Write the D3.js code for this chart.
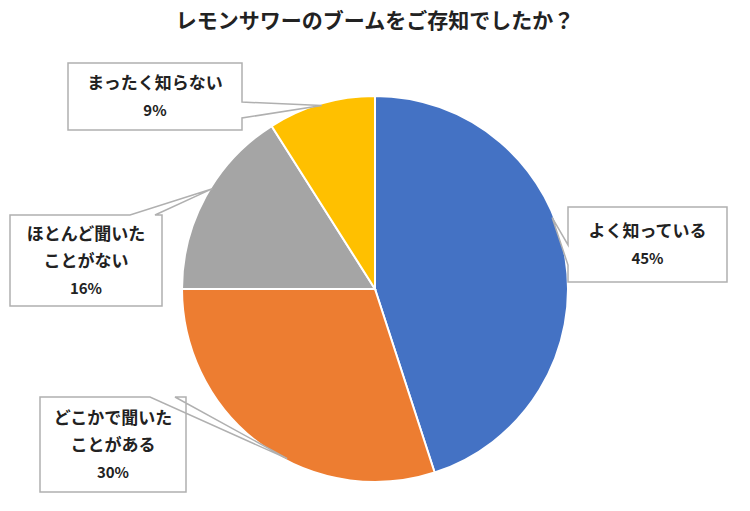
<!DOCTYPE html>
<html lang="ja">
<head>
<meta charset="UTF-8">
<script src="https://d3js.org/d3.v7.min.js"></script>
<style>body{margin:0;background:#fff}text{font-family:"Noto Sans CJK JP",sans-serif;font-weight:bold;fill:#222}</style>
</head>
<body>
<script>
const categories = ["よく知っている", "どこかで聞いたことがある", "ほとんど聞いたことがない", "まったく知らない"];
const values = [45, 30, 16, 9];
const colors = ["#4472c4", "#ed7d31", "#a5a5a5", "#ffc000"];
const labelLines = [["よく知っている"], ["どこかで聞いた", "ことがある"], ["ほとんど聞いた", "ことがない"], ["まったく知らない"]];

const W = 750, H = 511, cx = 375, cy = 289, r = 193;
const svg = d3.select("body").append("svg").attr("width", W).attr("height", H);

svg.append("text").attr("x", W / 2).attr("y", 28).attr("text-anchor", "middle")
  .style("font-size", "21px").text("レモンサワーのブームをご存知でしたか？");

const pie = d3.pie().sort(null).value(d => d)(values);
const arc = d3.arc().innerRadius(0).outerRadius(r);
const g = svg.append("g").attr("transform", `translate(${cx},${cy})`);
g.selectAll("path").data(pie).enter().append("path")
  .attr("d", arc).attr("fill", (d, i) => colors[i])
  .attr("stroke", "#fff").attr("stroke-width", 2);

// callout boxes: [x, y, w, h], tail base points and tip
const boxes = [
  { b: [568, 207, 159, 75], tail: "left", t0: 245, t1: 265 },
  { b: [40, 397, 146, 95], tail: "top", t0: 150, t1: 175 },
  { b: [10, 215, 152, 91], tail: "top", t0: 130, t1: 155 },
  { b: [68, 63, 174, 67], tail: "right", t0: 102, t1: 118 }
];
const tipAngle = [0.42, 0.42, 0.55, 0.5];

boxes.forEach((bx, i) => {
  const [x, y, w, h] = bx.b;
  const a = pie[i].startAngle + (pie[i].endAngle - pie[i].startAngle) * tipAngle[i];
  const tx = cx + Math.sin(a) * (r - 2), ty = cy - Math.cos(a) * (r - 2);
  let p;
  if (bx.tail === "left") p = [[x, y], [x + w, y], [x + w, y + h], [x, y + h], [x, bx.t1], [tx, ty], [x, bx.t0]];
  else if (bx.tail === "right") p = [[x, y], [x + w, y], [x + w, bx.t0], [tx, ty], [x + w, bx.t1], [x + w, y + h], [x, y + h]];
  else p = [[x, y], [bx.t0, y], [tx, ty], [bx.t1, y], [x + w, y], [x + w, y + h], [x, y + h]];
  svg.append("path").attr("d", d3.line()(p) + "Z")
    .attr("fill", "#fff").attr("stroke", "#b0b0b0").attr("stroke-width", 1.5);
  const lines = labelLines[i].concat([values[i] + "%"]);
  const lh = 27, startY = y + h / 2 - (lines.length - 1) * lh / 2 + 6;
  lines.forEach((l, k) => {
    svg.append("text").attr("x", x + w / 2).attr("y", startY + k * lh)
      .attr("text-anchor", "middle").style("font-size", k === lines.length - 1 ? "15px" : "17px").text(l);
  });
});
</script>
</body>
</html>
